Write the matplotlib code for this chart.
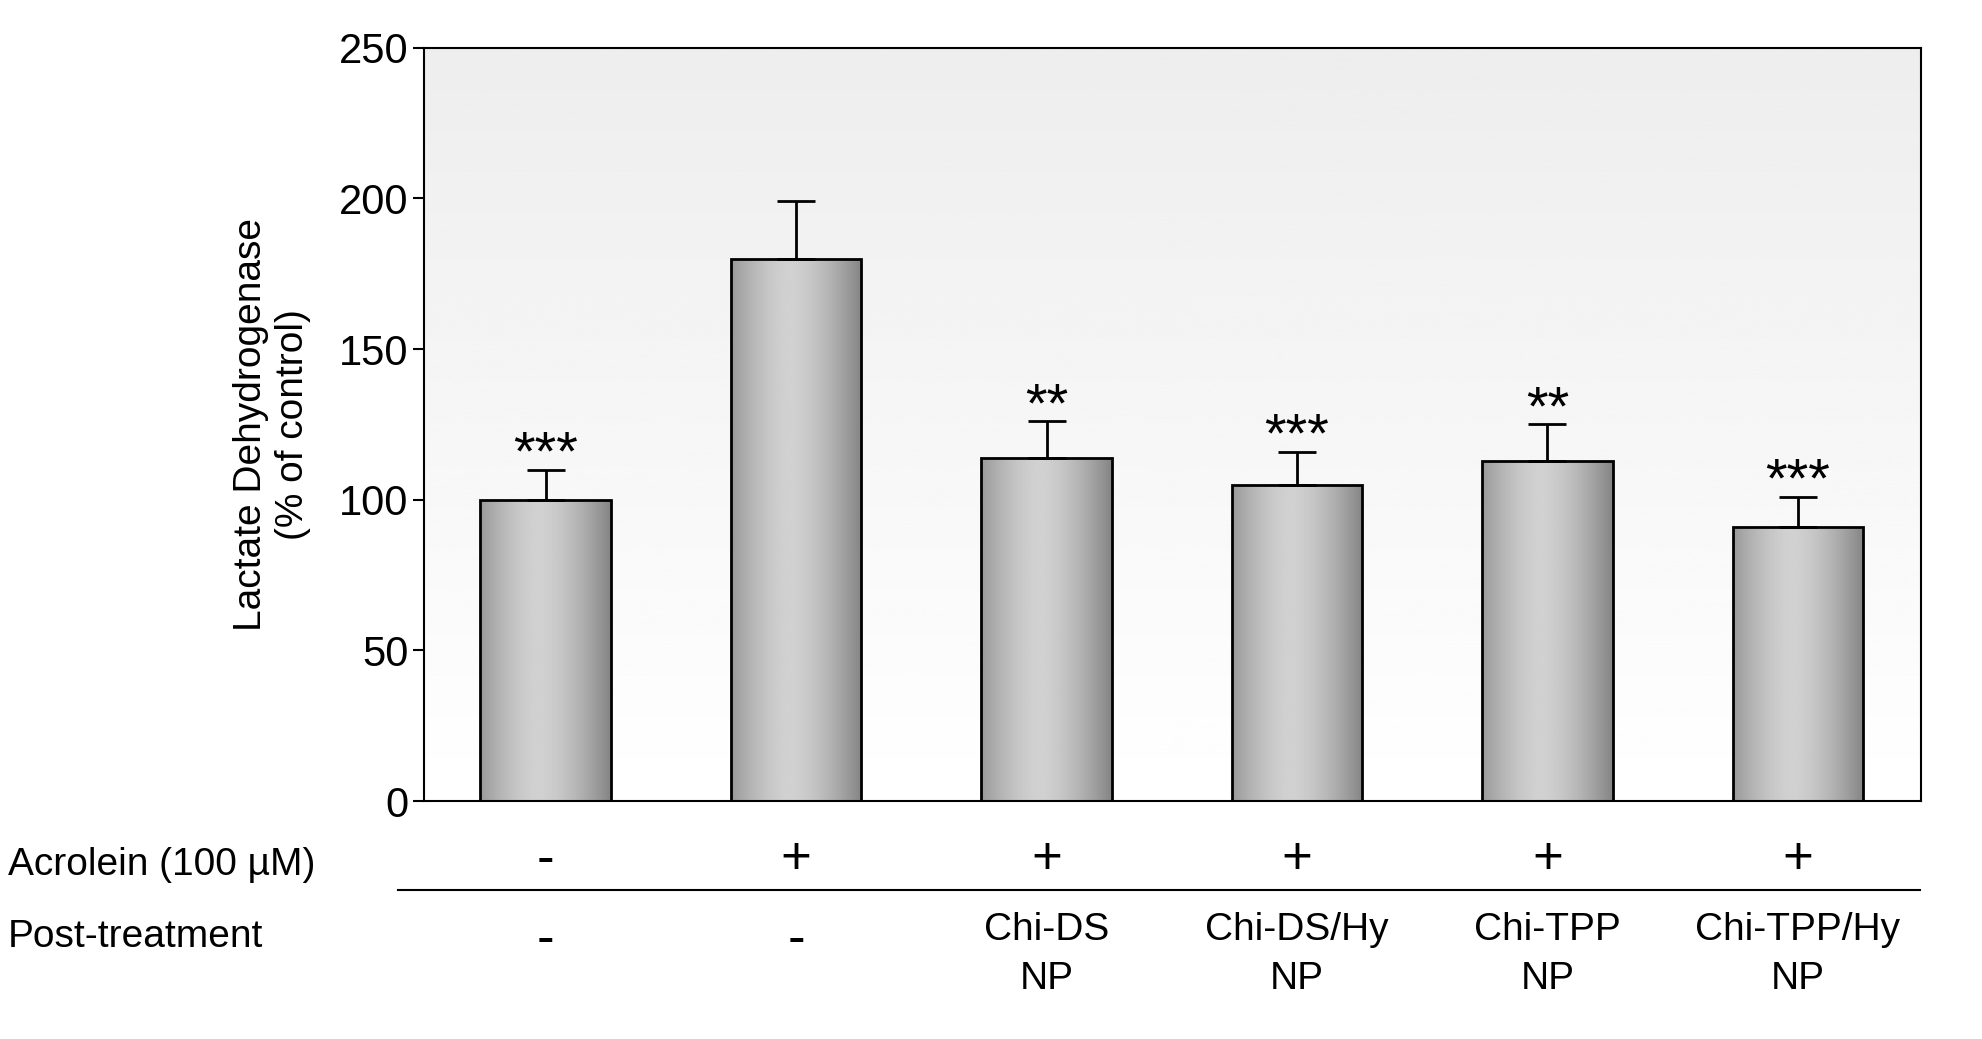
import numpy as np
import matplotlib
matplotlib.use("Agg")
import matplotlib.pyplot as plt
from matplotlib.transforms import blended_transform_factory

plt.rcParams['font.family'] = ['Liberation Sans', 'DejaVu Sans']

values = [100, 180, 114, 105, 113, 91]
errors = [10, 19, 12, 11, 12, 10]
stars = ["***", "", "**", "***", "**", "***"]
acrolein = ["-", "+", "+", "+", "+", "+"]
post = ["-", "-", "Chi-DS\nNP", "Chi-DS/Hy\nNP", "Chi-TPP\nNP", "Chi-TPP/Hy\nNP"]

fig = plt.figure(figsize=(19.82, 10.39), dpi=100)
ax = fig.add_axes([0.214, 0.229, 0.755, 0.725])
x = np.arange(len(values))
w = 0.52
ax.set_xlim(-0.485, 5.49)
ax.set_ylim(0, 250)

# background gradient: gray at top, white at bottom
bg = np.linspace(0.93, 1.0, 256)[:, None]
ax.imshow(bg, cmap='gray', vmin=0, vmax=1, aspect='auto', origin='upper',
          extent=[-0.485, 5.49, 0, 250], zorder=0)

# bar gradient
t = np.linspace(-1, 1, 256)
grad = (0.56 + 0.26 * (1 - np.abs(t + 0.1) ** 1.6))[None, :]
bars = ax.bar(x, values, width=w, color='none', edgecolor='black', linewidth=2, zorder=3)
for b, xi, v in zip(bars, x, values):
    im = ax.imshow(grad, cmap='gray', vmin=0, vmax=1, aspect='auto',
                   extent=[xi - w/2, xi + w/2, 0, v], zorder=2)
    im.set_clip_path(b)
ax.errorbar(x, values, yerr=[np.zeros(len(errors)), errors], fmt='none',
            ecolor='black', elinewidth=2, capsize=14, capthick=2, zorder=4)
for xi, v, e, s in zip(x, values, errors, stars):
    if s:
        ax.text(xi, v + e - 4, s, ha='center', va='bottom', fontsize=40, zorder=5)

ax.set_xticks([])
ax.set_yticks([0, 50, 100, 150, 200, 250])
ax.tick_params(axis='y', labelsize=30, length=8, width=1.5)
for sp in ax.spines.values():
    sp.set_linewidth(1.5)
ax.set_ylabel("Lactate Dehydrogenase\n(% of control)", fontsize=28, labelpad=20)

tr = blended_transform_factory(ax.transData, fig.transFigure)
for xi, a, p in zip(x, acrolein, post):
    ax.text(xi, 1 - 860/1039, a, transform=tr, ha='center', va='center', fontsize=38, clip_on=False)
    if '\n' in p:
        ax.text(xi, 1 - 912/1039, p, transform=tr, ha='center', va='top', fontsize=28,
                linespacing=1.45, clip_on=False)
    else:
        ax.text(xi, 1 - 940/1039, p, transform=tr, ha='center', va='center', fontsize=38, clip_on=False)
fig.text(8/1982, 1 - 865/1039, "Acrolein (100 µM)", ha='left', va='center', fontsize=28)
fig.text(8/1982, 1 - 937/1039, "Post-treatment", ha='left', va='center', fontsize=28)
fig.add_artist(plt.Line2D([398/1982, 1920/1982], [1 - 890/1039] * 2, color='black', lw=1.5))

fig.savefig("out.png", dpi=100)
